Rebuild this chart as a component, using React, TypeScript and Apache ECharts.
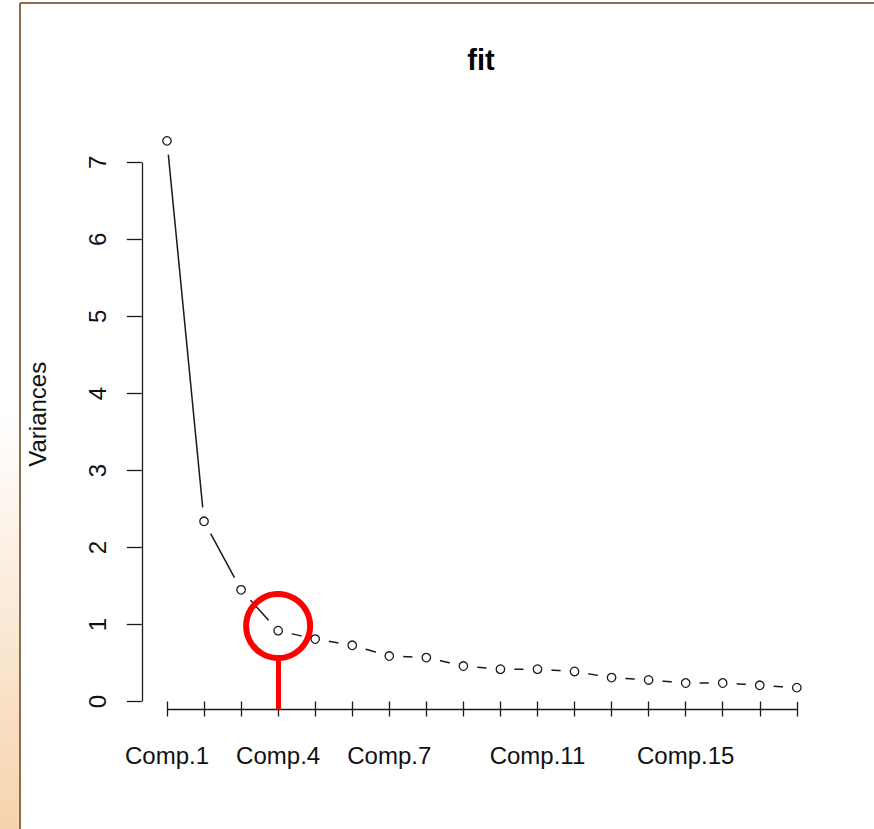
import React, { useEffect, useRef } from "react";
import * as echarts from "echarts";

const categories = [
  "Comp.1", "Comp.2", "Comp.3", "Comp.4", "Comp.5", "Comp.6", "Comp.7", "Comp.8", "Comp.9",
  "Comp.10", "Comp.11", "Comp.12", "Comp.13", "Comp.14", "Comp.15", "Comp.16", "Comp.17", "Comp.18",
];
const variances = [7.28, 2.34, 1.45, 0.92, 0.81, 0.73, 0.59, 0.57, 0.46, 0.42, 0.42, 0.39, 0.31, 0.28, 0.24, 0.24, 0.21, 0.18];
const xTickLabels = ["Comp.1", "Comp.4", "Comp.7", "Comp.11", "Comp.15"];
const yTicks = [0, 1, 2, 3, 4, 5, 6, 7];
const X_MIN = 0.32;
const X_MAX = 18.68;
const Y_MIN = -0.104;
const Y_MAX = 7.564;
const ANNOT_COMP = 4;
const ANNOT_Y = 0.98;
const ANNOT_LINE_TOP = 0.56;

const FONT = "'Liberation Sans', Arial, sans-serif";

export default function App() {
  const ref = useRef<HTMLDivElement>(null);
  useEffect(() => {
    if (!ref.current) return;
    const chart = echarts.init(ref.current, null, { renderer: "svg" });
    const pts = variances.map((v, i) => [i + 1, v]);
    const xTickValues = categories.map((_, i) => i + 1);
    const xLabelValues = xTickLabels.map((l) => categories.indexOf(l) + 1);
    const axisColor = "#1a1a1a";
    chart.setOption({
      animation: false,
      backgroundColor: "#fff",
      title: {
        text: "fit",
        left: 476,
        top: 40,
        textAlign: "center",
        textStyle: { fontFamily: FONT, fontSize: 29, fontWeight: "bold", color: "#000" },
      },
      graphic: [
        {
          type: "rect",
          shape: { x: 0, y: 0, width: 19, height: 829 },
          style: {
            fill: new echarts.graphic.LinearGradient(0, 0, 0, 1, [
              { offset: 0, color: "#ffffff" },
              { offset: 0.5, color: "#ffffff" },
              { offset: 1, color: "#f6d3ad" },
            ]),
          },
          silent: true,
        },
        { type: "line", shape: { x1: 20, y1: 3, x2: 874, y2: 3 }, style: { stroke: "#8c6d4f", lineWidth: 2 }, silent: true },
        { type: "line", shape: { x1: 20, y1: 3, x2: 20, y2: 829 }, style: { stroke: "#8c6d4f", lineWidth: 2 }, silent: true },
      ],
      grid: { left: 141.8, right: 52, top: 119, bottom: 119.5 },
      xAxis: {
        type: "value",
        min: X_MIN,
        max: X_MAX,
        axisLine: { show: false },
        splitLine: { show: false },
        axisTick: { show: true, inside: false, length: 15, customValues: xTickValues, lineStyle: { color: axisColor, width: 1.3 } },
        axisLabel: {
          customValues: xLabelValues,
          formatter: (v: number) => categories[Math.round(v) - 1],
          margin: 34,
          fontFamily: FONT,
          fontSize: 24,
          color: "#111",
        },
      },
      yAxis: {
        type: "value",
        min: Y_MIN,
        max: Y_MAX,
        name: "Variances",
        nameLocation: "middle",
        nameGap: 92,
        nameTextStyle: { fontFamily: FONT, fontSize: 24, color: "#111" },
        axisLine: { show: false },
        splitLine: { show: false },
        axisTick: { show: true, inside: false, length: 15, customValues: yTicks, lineStyle: { color: axisColor, width: 1.3 } },
        axisLabel: {
          customValues: yTicks,
          rotate: 90,
          margin: 32,
          fontFamily: FONT,
          fontSize: 24,
          color: "#111",
        },
      },
      series: [
        {
          type: "line",
          z: 2,
          data: pts,
          showSymbol: false,
          clip: false,
          silent: true,
          lineStyle: { color: axisColor, width: 1.5 },
          markLine: {
            silent: true,
            symbol: ["none", "none"],
            label: { show: false },
            lineStyle: { color: axisColor, width: 1.3, type: "solid" },
            data: [
              [{ coord: [X_MIN, yTicks[0]] }, { coord: [X_MIN, yTicks[yTicks.length - 1]] }],
              [{ coord: [1, Y_MIN] }, { coord: [categories.length, Y_MIN] }],
            ],
          },
        },
        {
          type: "scatter",
          z: 3,
          data: pts,
          symbol: "circle",
          symbolSize: 28,
          silent: true,
          clip: false,
          itemStyle: { color: "#ffffff", opacity: 1 },
        },
        {
          type: "scatter",
          z: 4,
          data: pts,
          symbol: "circle",
          symbolSize: 8.5,
          silent: true,
          clip: false,
          itemStyle: { color: "#ffffff", borderColor: axisColor, borderWidth: 1.3, opacity: 1 },
          markLine: {
            silent: true,
            symbol: ["none", "none"],
            label: { show: false },
            lineStyle: { color: "#ff0000", width: 5, type: "solid" },
            data: [[{ coord: [ANNOT_COMP, ANNOT_LINE_TOP] }, { coord: [ANNOT_COMP, Y_MIN] }]],
          },
          markPoint: {
            silent: true,
            symbol: "circle",
            symbolSize: 64,
            label: { show: false },
            itemStyle: { color: "transparent", borderColor: "#ff0000", borderWidth: 6 },
            data: [{ coord: [ANNOT_COMP, ANNOT_Y] }],
          },
        },
      ],
    });
    return () => chart.dispose();
  }, []);
  return (
    <div style={{ position: "fixed", left: 0, top: 0, width: 874, height: 829, background: "#fff" }}>
      <div ref={ref} style={{ width: 874, height: 829 }} />
    </div>
  );
}
